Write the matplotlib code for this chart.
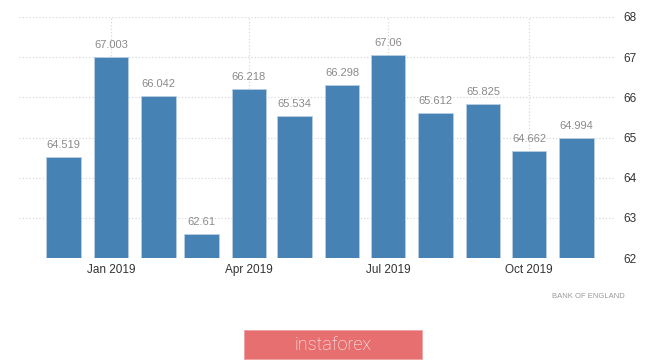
import matplotlib
matplotlib.use("Agg")
import matplotlib.pyplot as plt
import pandas as pd
from matplotlib.patches import FancyBboxPatch

# ── Data ───────────────────────────────────────────────────────────────────────

months = pd.date_range("2018-12-01", "2019-11-01", freq="MS")
values = [64.519, 67.003, 66.042, 62.61, 66.218, 65.534,
          66.298, 67.06, 65.612, 65.825, 64.662, 64.994]
value_labels = ["64.519", "67.003", "66.042", "62.61", "66.218", "65.534",
                "66.298", "67.06", "65.612", "65.825", "64.662", "64.994"]
tick_dates = pd.to_datetime(["2019-01-01", "2019-04-01", "2019-07-01", "2019-10-01"])
tick_labels = ["Jan 2019", "Apr 2019", "Jul 2019", "Oct 2019"]
y_ticks = [62, 63, 64, 65, 66, 67, 68]

BAR_COLOR = "#4682b4"
FONT = ["Liberation Sans Narrow", "Liberation Sans", "DejaVu Sans"]
plt.rcParams["font.family"] = FONT

# ── Plot ───────────────────────────────────────────────────────────────────────

fig = plt.figure(figsize=(6.65, 3.61), dpi=100)
ax = fig.add_axes([0.0286, 0.285, 0.896, 0.668])

ax.bar(months, [v - 62 for v in values], bottom=62, width=22.5,
       color=BAR_COLOR, edgecolor="#b9cfe2", linewidth=0.6, zorder=3)

for d, v, lab in zip(months, values, value_labels):
    ax.annotate(lab, (d, v), xytext=(0, 5), textcoords="offset points",
                ha="center", va="bottom", fontsize=8, color="#8a8a8a")

ax.set_ylim(62, 68)
ax.set_xlim(pd.Timestamp("2018-11-02"), pd.Timestamp("2019-11-26"))
ax.set_yticks(y_ticks)
ax.set_xticks(tick_dates)
ax.set_xticklabels(tick_labels)
ax.yaxis.tick_right()
ax.tick_params(axis="both", length=0, labelsize=8.5, colors="#333333")
ax.tick_params(axis="y", pad=6)
ax.tick_params(axis="x", pad=4)

ax.grid(True, color="#d9d9d9", linestyle=":", linewidth=0.9, zorder=0)
for s in ax.spines.values():
    s.set_visible(False)

fig.text(0.94, 0.18, "BANK OF ENGLAND", ha="right", va="center",
         fontsize=5.5, color="#999999")

# instaforex badge
badge = FancyBboxPatch((244 / 665, 1 - 359 / 361), 178 / 665, 29 / 361,
                       boxstyle="square,pad=0", transform=fig.transFigure,
                       facecolor="#e86f70", edgecolor="#f0a0a0", linewidth=0.6)
fig.patches.append(badge)
fig.text(333 / 665, 1 - 345 / 361, "instaforex", ha="center", va="center",
         fontsize=13, color="white", family=["Roboto", "DejaVu Sans"],
         fontweight="light")

fig.savefig("out.png", dpi=100)
